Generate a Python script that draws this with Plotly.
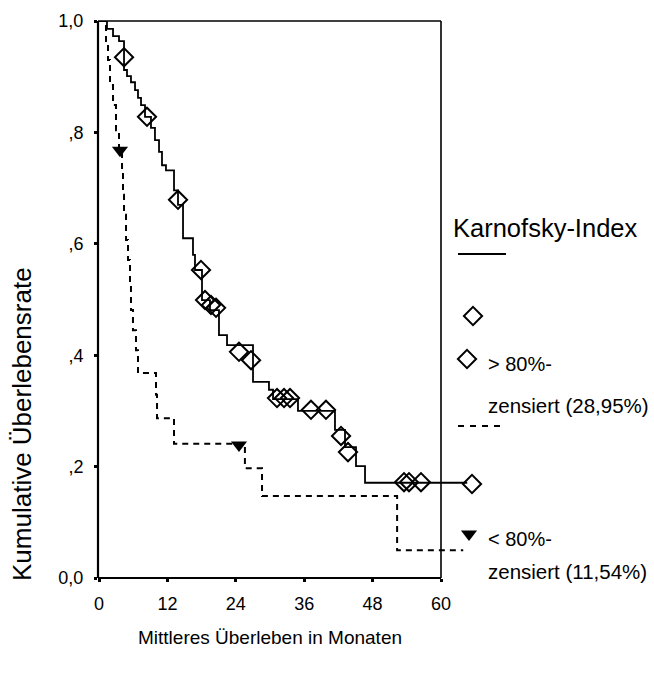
import plotly.graph_objects as go

# ---------------- data ----------------
# Karnofsky > 80% (solid): event times (months) and cumulative survival after each step
hi_t = [0, 1.4, 2.46, 3.51, 4.39, 4.91, 5.61, 6.32, 6.84, 7.37, 8.07, 9.12, 9.82, 10.53,
        11.05, 11.75, 13.16, 13.86, 14.74, 16.49, 16.84, 18.07, 19.47, 21.05, 22.46,
        27.02, 29.82, 30.53, 34.91, 41.40, 43.16, 45.09, 46.67]
hi_s = [1.0, 0.986, 0.973, 0.964, 0.912, 0.901, 0.890, 0.876, 0.862, 0.849, 0.828, 0.808,
        0.786, 0.765, 0.741, 0.732, 0.696, 0.670, 0.610, 0.580, 0.553, 0.499, 0.481, 0.436,
        0.418, 0.352, 0.338, 0.321, 0.300, 0.266, 0.235, 0.201, 0.171]
hi_end = 64.6
# censored (> 80%)
hi_cens_t = [4.39, 8.42, 13.86, 17.89, 18.60, 19.65, 20.53, 24.56, 26.67, 31.23, 32.46,
             33.51, 37.19, 39.82, 42.46, 43.68, 53.51, 54.39, 56.49]
hi_cens_s = [0.935, 0.828, 0.679, 0.553, 0.499, 0.490, 0.485, 0.406, 0.391, 0.323, 0.323,
             0.323, 0.302, 0.302, 0.255, 0.226, 0.172, 0.172, 0.172]

# Karnofsky < 80% (dashed)
lo_t = [0, 1.23, 1.58, 1.93, 2.46, 2.98, 3.51, 4.04, 4.21, 4.39, 4.74, 5.09, 5.44, 5.61,
        5.96, 6.49, 6.84, 10.0, 10.18, 13.16, 25.6, 28.6, 52.3]
lo_s = [1.0, 0.964, 0.930, 0.885, 0.849, 0.804, 0.768, 0.733, 0.688, 0.652, 0.607, 0.571,
        0.526, 0.481, 0.445, 0.409, 0.368, 0.329, 0.287, 0.241, 0.197, 0.147, 0.050]
lo_end = 63.9
lo_cens_t = [3.68, 24.56]
lo_cens_s = [0.768, 0.239]

x_ticks = [0, 12, 24, 36, 48, 60]
y_ticks = [0, 0.2, 0.4, 0.6, 0.8, 1.0]
y_ticktext = ["0,0", ",2", ",4", ",6", ",8", "1,0"]

# ---------------- layout geometry ----------------
W, H = 654, 675
L, R, T, B = 98, 124, 21, 97
X0PX, PXPM = 99.0, 5.7          # pixel of x=0, pixels per month
xr = [(L - X0PX) / PXPM, (W - R - X0PX) / PXPM]
pw, ph = W - L - R, H - T - B

def px2x(px):
    return (px - X0PX) / PXPM

def py2y(py):
    return (T + ph - py) / ph

def xpap(xd):
    return (xd - xr[0]) / (xr[1] - xr[0])

def pxpap(px):
    return (px - L) / pw

FONT = "Liberation Sans, Arial, sans-serif"
DIAMOND = dict(symbol="diamond-open", size=14, color="black", line=dict(width=2, color="black"))
TRI = dict(symbol="triangle-down", size=14, color="black")

fig = go.Figure()

fig.add_trace(go.Scatter(x=hi_t + [hi_end], y=hi_s + [hi_s[-1]], mode="lines",
                         line=dict(color="black", width=1.8, shape="hv"), hoverinfo="skip"))
fig.add_trace(go.Scatter(x=lo_t + [lo_end], y=lo_s + [lo_s[-1]], mode="lines",
                         line=dict(color="black", width=2, shape="hv", dash="6px,5px"),
                         hoverinfo="skip"))
fig.add_trace(go.Scatter(x=hi_cens_t, y=hi_cens_s, mode="markers", cliponaxis=False,
                         marker=DIAMOND))
fig.add_trace(go.Scatter(x=lo_cens_t, y=lo_cens_s, mode="markers", cliponaxis=False,
                         marker=TRI))

# legend markers
fig.add_trace(go.Scatter(x=[px2x(473), px2x(467), px2x(472)],
                         y=[py2y(316), py2y(359), py2y(484)], mode="markers", cliponaxis=False,
                         marker=DIAMOND))
fig.add_trace(go.Scatter(x=[px2x(469)], y=[py2y(534)], mode="markers", cliponaxis=False,
                         marker=TRI))

shapes = [
    dict(type="line", xref="paper", yref="paper", x0=pxpap(98), x1=xpap(60), y0=0, y1=0,
         line=dict(color="black", width=2.2)),
    dict(type="line", xref="paper", yref="paper", x0=pxpap(98), x1=pxpap(98), y0=0, y1=1,
         line=dict(color="black", width=2.2)),
    dict(type="line", xref="paper", yref="paper", x0=pxpap(98), x1=xpap(60), y0=1, y1=1,
         line=dict(color="black", width=1.6)),
    dict(type="line", xref="paper", yref="paper", x0=xpap(60), x1=xpap(60), y0=0, y1=1,
         line=dict(color="black", width=1.6)),
    # legend lines
    dict(type="line", xref="paper", yref="paper", x0=pxpap(458), x1=pxpap(506),
         y0=py2y(254), y1=py2y(254), line=dict(color="black", width=1.8)),
    dict(type="line", xref="paper", yref="paper", x0=pxpap(458), x1=pxpap(506),
         y0=py2y(426), y1=py2y(426), line=dict(color="black", width=1.8, dash="6px,6px")),
]

def ann(text, px, py, size, xanchor="left", angle=0):
    return dict(text=text, xref="paper", yref="paper", x=pxpap(px), y=py2y(py),
                xanchor=xanchor, yanchor="middle", showarrow=False, textangle=angle,
                font=dict(family=FONT, size=size, color="black"))

annotations = [
    ann("Karnofsky-Index", 451, 228, 25.5),
    ann("> 80%-", 486, 364, 20),
    ann("zensiert (28,95%)", 486, 405, 20.5),
    ann("< 80%-", 486, 539, 20),
    ann("zensiert (11,54%)", 486, 571, 20.5),
    ann("Mittleres Überleben in Monaten", 270, 637, 19, xanchor="center"),
    ann("Kumulative Überlebensrate", 22, 424, 26, xanchor="center", angle=-90),
]

fig.update_layout(
    width=W, height=H, margin=dict(l=L, r=R, t=T, b=B),
    paper_bgcolor="white", plot_bgcolor="white", showlegend=False,
    font=dict(family=FONT, size=18, color="black"),
    shapes=shapes, annotations=annotations,
    xaxis=dict(range=xr, tickvals=x_ticks, ticktext=[str(v) for v in x_ticks],
               showgrid=False, zeroline=False, showline=False, ticks="outside",
               ticklen=3, tickwidth=3, tickcolor="black", ticklabelstandoff=6,
               tickfont=dict(family=FONT, size=18)),
    yaxis=dict(range=[0, 1], tickvals=y_ticks, ticktext=y_ticktext, showgrid=False,
               zeroline=False, showline=False, ticks="outside", ticklen=3, tickwidth=3,
               tickcolor="black", ticklabelstandoff=7, tickfont=dict(family=FONT, size=18)),
)

fig.write_html("out.html")
